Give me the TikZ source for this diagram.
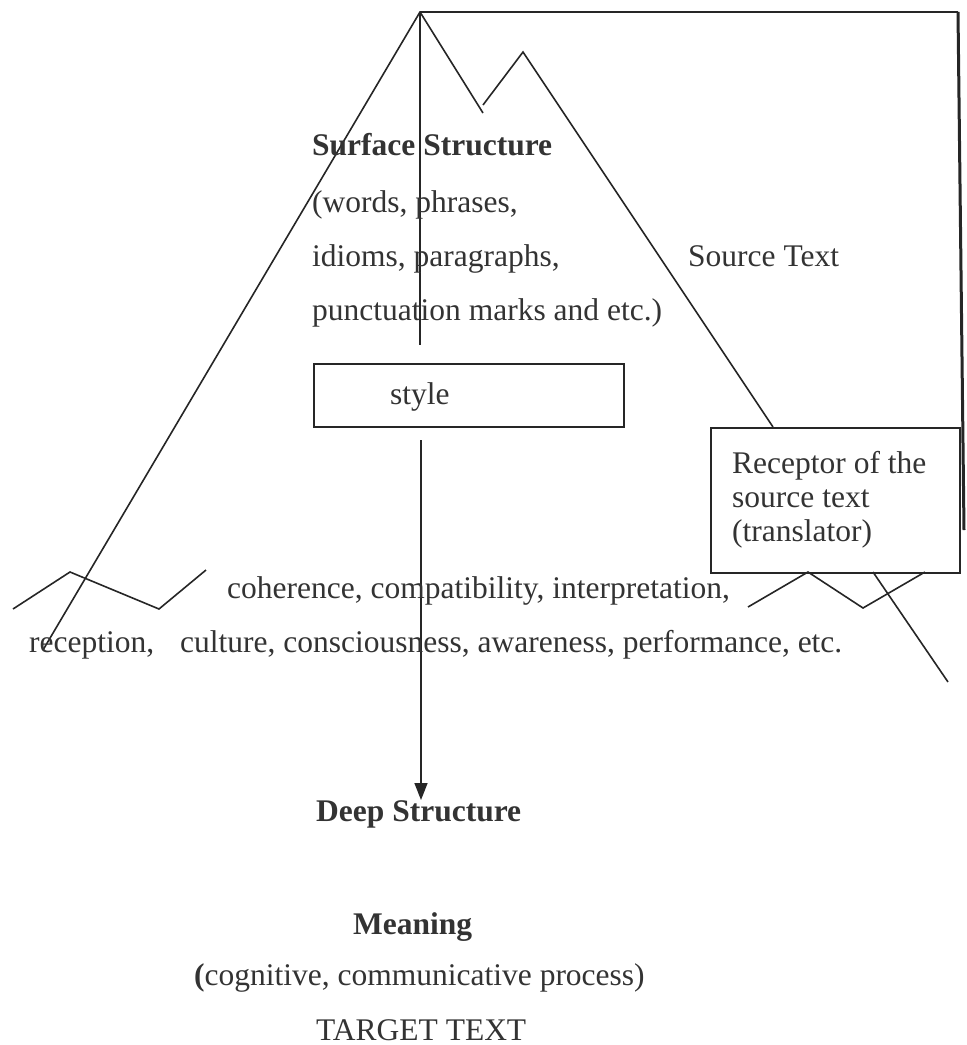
\documentclass[tikz,border=0pt]{standalone}
\usepackage{fontspec}
\setmainfont{Liberation Serif}
\usetikzlibrary{arrows.meta}
\begin{document}
\begin{tikzpicture}[x=1pt,y=-1pt,
  ln/.style={line width=1.6pt, draw=black!85},
  thick ln/.style={line width=3pt, draw=black!85},
  txt/.style={anchor=base west, inner sep=0pt, font=\fontsize{31.5}{38}\selectfont, text=black!80},
  btxt/.style={txt, font=\fontsize{31.5}{38}\selectfont\bfseries},
  boxed/.style={draw=black!85, line width=1.6pt, anchor=north west, inner sep=0pt}]
\useasboundingbox (0,0) rectangle (967,1045);
% mountain outline
\coordinate (peak) at (420,12);
\coordinate (corner) at (958,12);
\coordinate (rightend) at (964,530);
\coordinate (leftfoot) at (43,650);
\coordinate (v1) at (483,113);
\coordinate (v2) at (483,105);
\coordinate (p2) at (523,52);
\coordinate (axtop) at (420,345);
\coordinate (axbot) at (421,440);
\coordinate (deeptop) at (421,800);
% boxes
\node[boxed, minimum width=310pt, minimum height=63pt] (stylebox) at (313,363) {};
\node[boxed, minimum width=249pt, minimum height=145pt] (recbox) at (710,427) {};
\coordinate (rtop) at (773,427);
\coordinate (rbot) at (873,572);
\coordinate (rfoot) at (948,682);
% lines
\draw[ln] (leftfoot) -- (peak) -- (corner);
\draw[thick ln] (corner) -- (rightend);
\draw[ln] (peak) -- (v1);
\draw[ln] (v2) -- (p2) -- (rtop);
\draw[ln] (rbot) -- (rfoot);
\draw[ln] (peak) -- (axtop);
\draw[ln, -{Triangle[length=17pt,width=13pt]}] (axbot) -- (deeptop);
% zigzags
\coordinate (lz1) at (13,609);
\coordinate (lz2) at (70,572);
\coordinate (lz3) at (159,609);
\coordinate (lz4) at (206,570);
\draw[ln] (lz1) -- (lz2) -- (lz3) -- (lz4);
\coordinate (rz1) at (748,607);
\coordinate (rz2) at (808,572);
\coordinate (rz3) at (863,608);
\coordinate (rz4) at (925,572);
\draw[ln] (rz1) -- (rz2) -- (rz3) -- (rz4);
% texts
\node[btxt] (surf) at (312,155) {Surface Structure};
\node[txt] (s1) at (312,212) {(words, phrases,};
\node[txt] (s2) at (312,266) {idioms, paragraphs,};
\node[txt] (s3) at (312,320) {punctuation marks and etc.)};
\node[txt] (src) at (688,266) {Source Text};
\node[txt] (style) at (390,404) {style};
\node[txt] (r1) at (732,473) {Receptor of the};
\node[txt] (r2) at (732,507) {source text};
\node[txt] (r3) at (732,541) {(translator)};
\node[txt] (coh) at (227,598) {coherence, compatibility, interpretation,};
\node[txt] (rec) at (29,652) {reception,};
\node[txt] (cul) at (180,652) {culture, consciousness, awareness, performance, etc.};
\node[btxt] (deep) at (316,821) {Deep Structure};
\node[btxt] (mean) at (353,934) {Meaning};
\node[txt] (cog) at (194,985) {\textbf{(}cognitive, communicative process)};
\node[txt] (tgt) at (316,1040) {TARGET TEXT};
\end{tikzpicture}
\end{document}
